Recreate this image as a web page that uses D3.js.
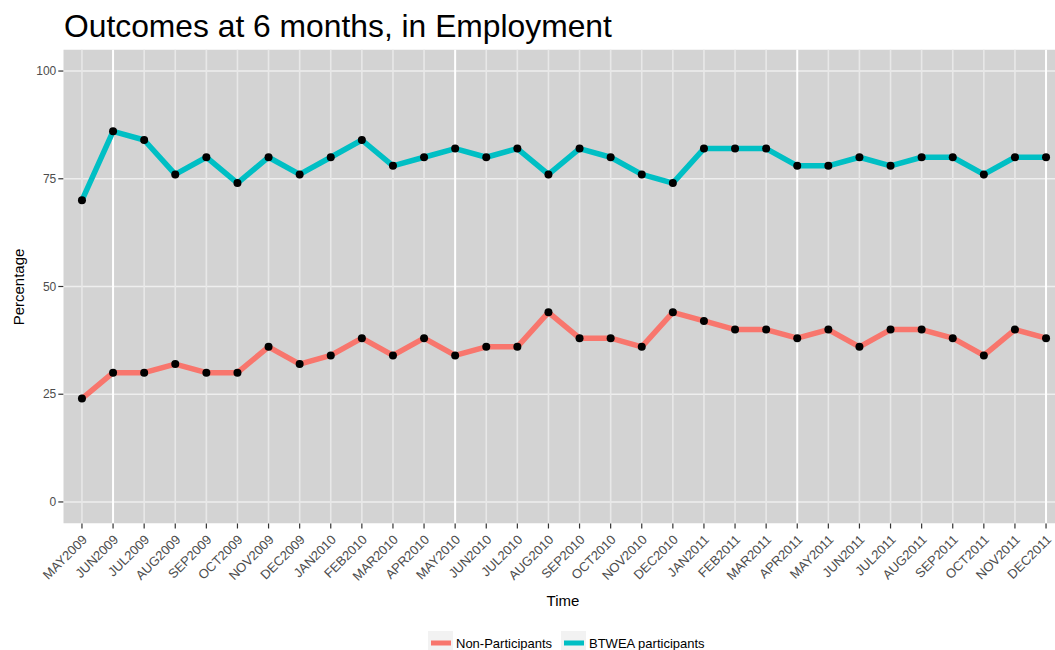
<!DOCTYPE html>
<html>
<head>
<meta charset="utf-8">
<script src="https://cdn.jsdelivr.net/npm/d3@7"></script>
<style>
  html, body { margin: 0; padding: 0; background: #fff; }
  svg { display: block; font-family: "Liberation Sans", Arial, sans-serif; }
</style>
</head>
<body>
<svg id="chart" width="1055" height="650"></svg>
<script>
const months = ["MAY2009","JUN2009","JUL2009","AUG2009","SEP2009","OCT2009","NOV2009","DEC2009",
  "JAN2010","FEB2010","MAR2010","APR2010","MAY2010","JUN2010","JUL2010","AUG2010","SEP2010","OCT2010","NOV2010","DEC2010",
  "JAN2011","FEB2011","MAR2011","APR2011","MAY2011","JUN2011","JUL2011","AUG2011","SEP2011","OCT2011","NOV2011","DEC2011"];
const nonParticipants = [24,30,30,32,30,30,36,32, 34,38,34,38,34,36,36,44,38,38,36,44, 42,40,40,38,40,36,40,40,38,34,40,38];
const btweaParticipants = [70,86,84,76,80,74,80,76, 80,84,78,80,82,80,82,76,82,80,76,74, 82,82,82,78,78,80,78,80,80,76,80,80];
const yTicks = [0,25,50,75,100];
const seriesNames = ["Non-Participants","BTWEA participants"];
const seriesColors = ["#F8766D","#00BFC4"];
// gridlines that appear brighter in the reference image
const brightGrid = ["JUN2009","MAY2010","APR2011","DEC2011"];

const svg = d3.select("#chart");
const panel = {left: 63.3, right: 1064.7, top: 49.5, bottom: 523.5};

const x = d3.scalePoint().domain(months).range([panel.left, panel.right]).padding(0.6);
const y = d3.scaleLinear().domain([-5, 105]).range([panel.bottom, panel.top]);

svg.append("defs").append("clipPath").attr("id","pclip")
  .append("rect").attr("x", panel.left).attr("y", panel.top)
  .attr("width", panel.right - panel.left).attr("height", panel.bottom - panel.top);

const g = svg.append("g").attr("clip-path","url(#pclip)");
g.append("rect").attr("x", panel.left).attr("y", panel.top)
  .attr("width", panel.right - panel.left).attr("height", panel.bottom - panel.top)
  .attr("fill", "#d3d3d3");

g.selectAll("line.hg").data(yTicks).join("line").attr("class","hg")
  .attr("x1", panel.left).attr("x2", panel.right)
  .attr("y1", d => y(d)).attr("y2", d => y(d))
  .attr("stroke", "#eeeeee").attr("stroke-width", 1.6);
g.selectAll("line.vg").data(months).join("line").attr("class","vg")
  .attr("y1", panel.top).attr("y2", panel.bottom)
  .attr("x1", d => x(d)).attr("x2", d => x(d))
  .attr("stroke", d => brightGrid.includes(d) ? "#ffffff" : "#e8e8e8")
  .attr("stroke-width", d => brightGrid.includes(d) ? 2 : 1.6);

const seriesData = [nonParticipants, btweaParticipants];
const line = d3.line().x((d,i) => x(months[i])).y(d => y(d));
seriesData.forEach((vals, si) => {
  g.append("path").datum(vals)
    .attr("d", line).attr("fill","none")
    .attr("stroke", seriesColors[si]).attr("stroke-width", 5.5)
    .attr("stroke-linejoin","round").attr("stroke-linecap","butt");
});
seriesData.forEach((vals, si) => {
  g.selectAll("circle.s"+si).data(vals).join("circle").attr("class","s"+si)
    .attr("cx", (d,i) => x(months[i])).attr("cy", d => y(d))
    .attr("r", 4).attr("fill","#000");
});

const yAxis = svg.append("g");
yAxis.selectAll("line").data(yTicks).join("line")
  .attr("x1", panel.left - 5).attr("x2", panel.left)
  .attr("y1", d => y(d)).attr("y2", d => y(d))
  .attr("stroke", "#333").attr("stroke-width", 1.2);
yAxis.selectAll("text").data(yTicks).join("text")
  .attr("x", panel.left - 7).attr("y", d => y(d)).attr("dy", "0.35em")
  .attr("text-anchor","end").attr("font-size", 12).attr("fill", "#4d4d4d")
  .text(d => d);

const xAxis = svg.append("g");
xAxis.selectAll("line").data(months).join("line")
  .attr("x1", d => x(d)).attr("x2", d => x(d))
  .attr("y1", panel.bottom).attr("y2", panel.bottom + 5)
  .attr("stroke", "#333").attr("stroke-width", 1.2);
xAxis.selectAll("text").data(months).join("text")
  .attr("transform", d => `translate(${x(d) + 6},${panel.bottom + 17}) rotate(-45)`)
  .attr("text-anchor","end").attr("font-size", 13).attr("fill", "#4d4d4d")
  .text(d => d);

svg.append("text").attr("x", 64).attr("y", 37).attr("font-size", 31.8).attr("fill","#000")
  .text("Outcomes at 6 months, in Employment");
svg.append("text").attr("x", 563).attr("y", 606).attr("text-anchor","middle")
  .attr("font-size", 15).attr("fill","#000").text("Time");
svg.append("text").attr("transform", "translate(24,287) rotate(-90)").attr("text-anchor","middle")
  .attr("font-size", 15).attr("fill","#000").text("Percentage");

const legendX = [428, 561];
const leg = svg.append("g");
seriesNames.forEach((name, i) => {
  const lx = legendX[i];
  leg.append("rect").attr("x", lx).attr("y", 631).attr("width", 25).attr("height", 22).attr("fill", "#f2f2f2");
  leg.append("line").attr("x1", lx + 3).attr("x2", lx + 23).attr("y1", 643).attr("y2", 643)
    .attr("stroke", seriesColors[i]).attr("stroke-width", 5);
  leg.append("text").attr("x", lx + 28).attr("y", 643).attr("dy","0.35em")
    .attr("font-size", 13).attr("fill","#000").text(name);
});
</script>
</body>
</html>
